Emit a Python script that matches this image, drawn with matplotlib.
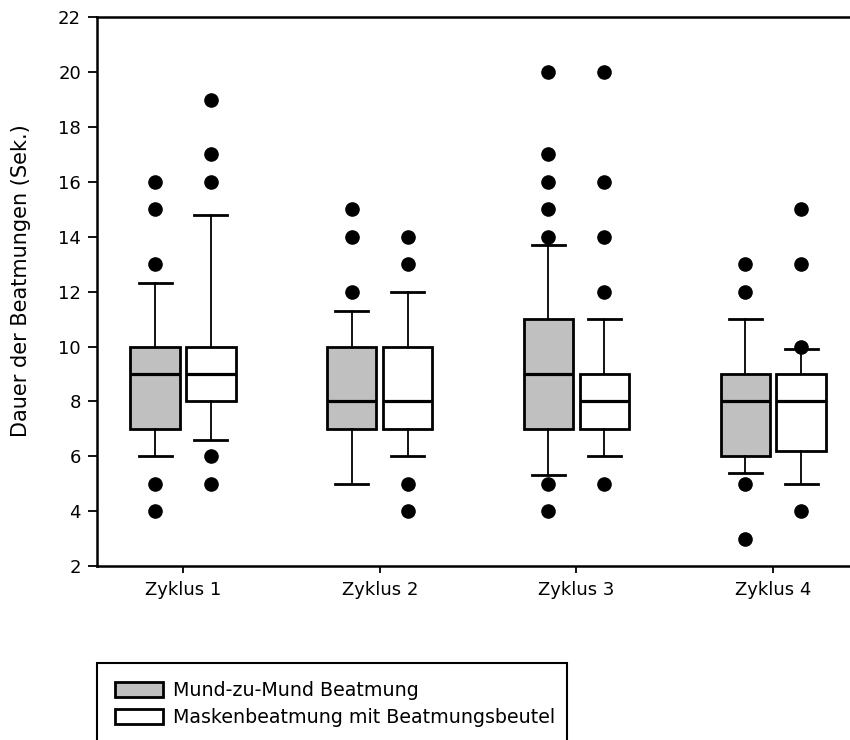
import numpy as np
import matplotlib
matplotlib.use('Agg')
import matplotlib.pyplot as plt
from matplotlib.patches import Patch

# values
cycles = ['Zyklus 1', 'Zyklus 2', 'Zyklus 3', 'Zyklus 4']

# Mund-zu-Mund Beatmung (grey boxes)
mund_lo = [6, 5, 5.3, 5.4]
mund_q1 = [7, 7, 7, 6]
mund_med = [9, 8, 9, 8]
mund_q3 = [10, 10, 11, 9]
mund_hi = [12.3, 11.3, 13.7, 11]
mund_fliers = [[4, 5, 13, 15, 16], [12, 14, 15], [4, 5, 14, 15, 16, 17, 20], [3, 5, 12, 13]]

# Maskenbeatmung mit Beatmungsbeutel (white boxes)
mask_lo = [6.6, 6, 6, 5]
mask_q1 = [8, 7, 7, 6.2]
mask_med = [9, 8, 8, 8]
mask_q3 = [10, 10, 9, 9]
mask_hi = [14.8, 12, 11, 9.9]
mask_fliers = [[5, 6, 16, 17, 19], [4, 5, 13, 14], [5, 12, 14, 16, 20], [4, 10, 13, 15]]

labels = ['Mund-zu-Mund Beatmung', 'Maskenbeatmung mit Beatmungsbeutel']
colors = ['#c0c0c0', 'white']


def make_stats(lo, q1, med, q3, hi, fl):
    stats = []
    for i in range(len(lo)):
        stats.append({'whislo': lo[i], 'q1': q1[i], 'med': med[i], 'q3': q3[i],
                      'whishi': hi[i], 'fliers': fl[i]})
    return stats


fig = plt.figure(figsize=(8.5, 7.4), dpi=100)
ax = fig.add_axes([97 / 850, 1 - 566 / 740, (850 - 97) / 850, (566 - 17.3) / 740])

pos = np.arange(1, len(cycles) + 1)
off = 0.142
groups = [make_stats(mund_lo, mund_q1, mund_med, mund_q3, mund_hi, mund_fliers),
          make_stats(mask_lo, mask_q1, mask_med, mask_q3, mask_hi, mask_fliers)]

for k, st in enumerate(groups):
    ax.bxp(st, positions=pos + (k * 2 - 1) * off, widths=0.25, capwidths=0.168,
           patch_artist=True, showfliers=True,
           boxprops=dict(facecolor=colors[k], edgecolor='black', linewidth=2),
           medianprops=dict(color='black', linewidth=2.3),
           whiskerprops=dict(color='black', linewidth=1.3),
           capprops=dict(color='black', linewidth=2),
           flierprops=dict(marker='o', markerfacecolor='black', markeredgecolor='black',
                           markersize=9.5, linestyle='none'))

ax.set_xlim(1 - 86 / 196.7, 1 + (850 - 183) / 196.7)
ax.set_ylim(2, 22)
ax.set_yticks(np.arange(2, 23, 2))
ax.set_xticks(pos)
ax.set_xticklabels(cycles, fontsize=13)
ax.tick_params(axis='y', labelsize=13, length=6.5, width=1.3, pad=5)
ax.tick_params(axis='x', length=5, width=1.3, pad=6)
ax.spines['right'].set_visible(False)
for s in ['left', 'bottom', 'top']:
    ax.spines[s].set_linewidth(1.8)

ax.set_ylabel('Dauer der Beatmungen (Sek.)', fontsize=15)
ax.yaxis.set_label_coords(-0.088, 0.52)

handles = [Patch(facecolor=colors[0], edgecolor='black', linewidth=2),
           Patch(facecolor=colors[1], edgecolor='black', linewidth=2)]
leg = fig.legend(handles, labels, loc='upper left',
                 bbox_to_anchor=(97 / 850, 0, 470 / 850, 1 - 662.7 / 740),
                 mode='expand', borderaxespad=0, fontsize=13.7, fancybox=False,
                 handlelength=2.5, handleheight=0.82, handletextpad=0.55,
                 labelspacing=0.42, borderpad=0.95, framealpha=1)
leg.get_frame().set_edgecolor('black')
leg.get_frame().set_linewidth(1.5)

plt.savefig('out.png', dpi=100)
